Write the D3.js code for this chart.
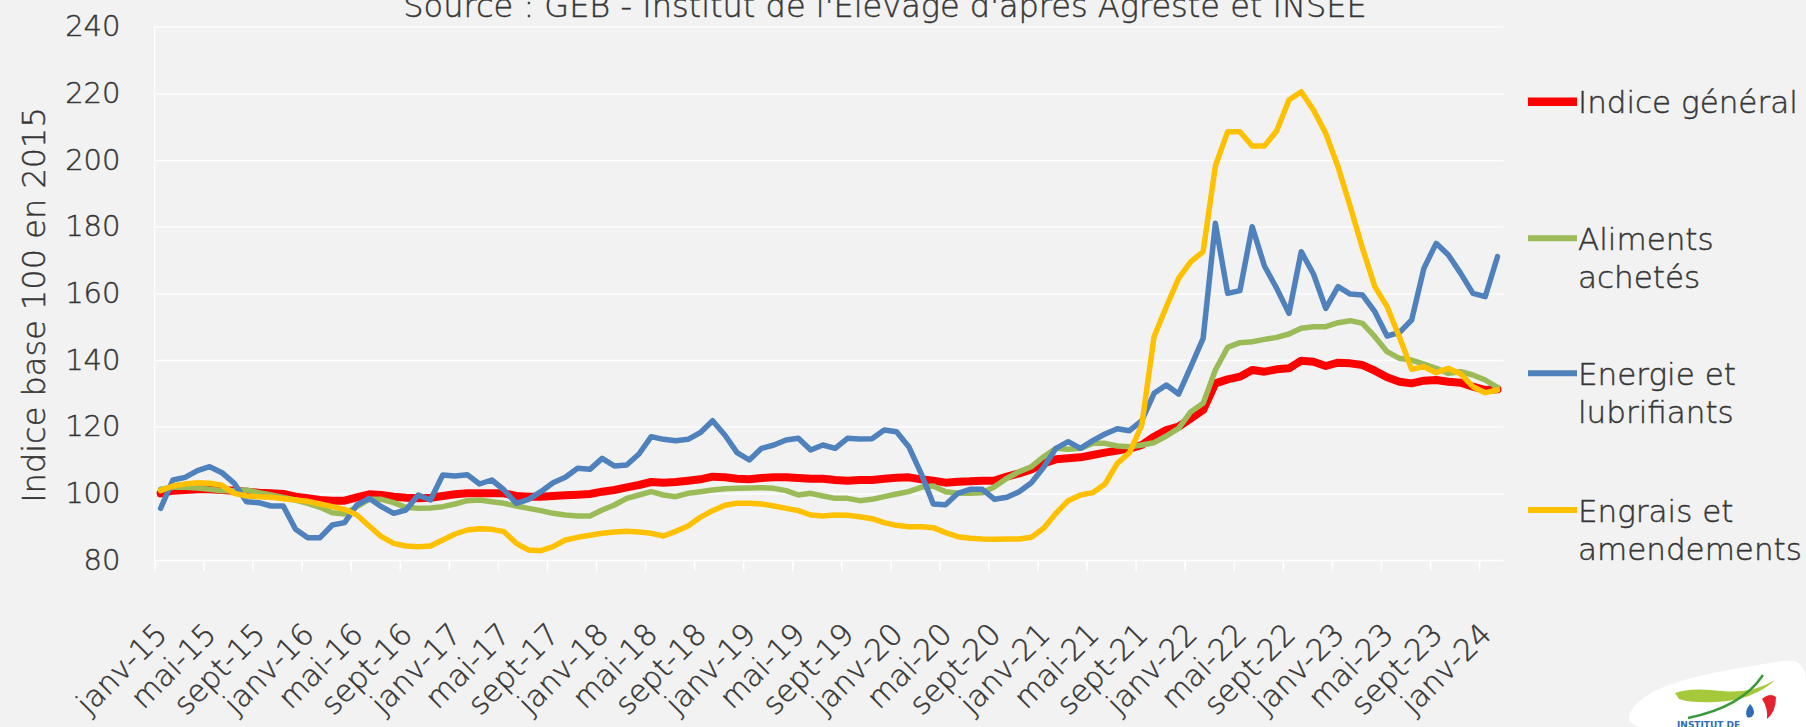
<!DOCTYPE html>
<html>
<head>
<meta charset="utf-8">
<script src="https://cdn.jsdelivr.net/npm/d3@7"></script>
<style>
html, body { margin: 0; padding: 0; background: #f2f2f2; }
svg { display: block; }
text { font-family: "DejaVu Sans", sans-serif; font-weight: 300; fill: #363636; stroke: #363636; stroke-width: 0.45px; }
</style>
</head>
<body>
<svg id="chart"></svg>
<script>
////////////////////////////////////////////////////////
// Indices des prix d'achat des moyens de production agricole
// base 100 en 2015, janv-15 -> févr-24

const monthNames = ['janv', 'févr', 'mars', 'avr', 'mai', 'juin', 'juil', 'août', 'sept', 'oct', 'nov', 'déc'];
const years = ['15', '16', '17', '18', '19', '20', '21', '22', '23', '24'];
const nbMonths = 110;

const tickLabels = [
	'janv-15', 'mai-15', 'sept-15', 'janv-16', 'mai-16', 'sept-16', 'janv-17', 'mai-17', 'sept-17',
	'janv-18', 'mai-18', 'sept-18', 'janv-19', 'mai-19', 'sept-19', 'janv-20', 'mai-20', 'sept-20',
	'janv-21', 'mai-21', 'sept-21', 'janv-22', 'mai-22', 'sept-22', 'janv-23', 'mai-23', 'sept-23',
	'janv-24'
];
const yTicks = [80, 100, 120, 140, 160, 180, 200, 220, 240];

const indiceGeneral = [
	100, 100.8, 101, 101.2, 101.2, 101, 100.8, 100.5, 100.2, 100, 99.8, 99,
	98.5, 98, 97.8, 97.8, 98.8, 99.7, 99.5, 99, 98.7, 98.5, 98.7, 99.2,
	99.7, 100, 100, 100, 100, 99.2, 99, 99, 99.2, 99.4, 99.6, 99.8,
	100.5, 101, 101.8, 102.5, 103.4, 103.2, 103.4, 103.8, 104.2, 105, 104.8, 104.4,
	104.2, 104.6, 104.8, 104.8, 104.6, 104.4, 104.4, 104, 103.8, 104, 104, 104.4,
	104.7, 104.8, 104.2, 103.8, 103.2, 103.5, 103.6, 103.8, 103.8, 105, 106, 107.2,
	109, 110.2, 110.5, 110.8, 111.5, 112.2, 112.8, 113.4, 114.5, 117, 119, 120,
	122.5, 125, 133, 134.2, 135, 137, 136.5, 137.2, 137.5, 139.8, 139.5, 138.2,
	139.2, 139, 138.5, 136.8, 134.8, 133.5, 133, 133.8, 134, 133.5, 133.2, 132,
	131, 131.2
];

const alimentsAchetes = [
	101.2, 101.8, 101.8, 101.6, 101.2, 100.8, 100.8, 101, 100.2, 99.5, 98.8, 98,
	97, 95.8, 94.2, 93.8, 96, 98.2, 98.2, 97.2, 95.8, 95.5, 95.6, 96,
	96.8, 97.8, 98, 97.5, 97, 96.2, 95.5, 94.8, 94, 93.5, 93.2, 93.2,
	95, 96.5, 98.5, 99.5, 100.5, 99.5, 99, 100, 100.5, 101, 101.4, 101.5,
	101.6, 101.7, 101.5, 100.8, 99.5, 100, 99.2, 98.5, 98.5, 97.8, 98.2, 99,
	99.8, 100.5, 101.8, 102.2, 100.5, 100, 100, 100.2, 102, 104.5, 106.5, 108,
	111, 113.5, 113.2, 113.5, 115, 115, 114.2, 114, 114.5, 115.2, 117.2, 119.5,
	124.5, 127, 137, 143.8, 145.2, 145.5, 146.2, 146.8, 147.8, 149.5, 150, 150,
	151.2, 151.8, 151, 147, 142.5, 140.5, 140, 138.8, 137.5, 136, 136.5, 135.5,
	134, 131.8
];

const energieLubrifiants = [
	95.5, 104, 104.8, 106.8, 108, 106.2, 103, 97.5, 97.2, 96.2, 96.2, 89.2,
	86.7, 86.7, 90.5, 91.2, 96.5, 98.5, 96, 94, 95, 99.5, 98, 105.5,
	105.2, 105.6, 102.8, 104, 101, 97, 98.2, 100.5, 103.2, 104.8, 107.5, 107.2,
	110.5, 108.2, 108.5, 111.8, 117, 116.2, 115.8, 116.2, 118.2, 121.8, 117.5, 112.2,
	110, 113.5, 114.5, 116, 116.5, 113, 114.5, 113.5, 116.5, 116.3, 116.4, 119,
	118.5, 114, 106, 96.8, 96.6, 100, 101.2, 101.2, 98.2, 98.8, 100.5, 103.2,
	107.8, 113.5, 115.5, 113.5, 115.8, 117.8, 119.4, 118.8, 121.8, 130, 132.5, 129.8,
	138, 146.5, 181, 160, 160.8, 180, 168.2, 161.5, 154, 172.5, 165.8, 155.5,
	162, 159.8, 159.5, 154.5, 147.2, 148.2, 152, 167.5, 175, 171.5, 166, 160,
	159, 171
];

const engraisAmendements = [
	100.8, 102.2, 102.8, 103.2, 103, 102.4, 100, 99.2, 99, 98.8, 98.4, 98,
	97.6, 96.8, 96, 95.2, 93.5, 90.2, 87, 85, 84.2, 84, 84.2, 86,
	87.8, 89, 89.4, 89.2, 88.5, 85, 83, 82.8, 84, 86, 86.8, 87.4,
	88, 88.4, 88.6, 88.4, 88, 87.2, 88.6, 90.2, 92.8, 94.8, 96.4, 97,
	97, 96.8, 96.2, 95.5, 94.8, 93.5, 93.2, 93.5, 93.4, 93, 92.4, 91.2,
	90.4, 90, 90, 89.7, 88.2, 87, 86.5, 86.3, 86.2, 86.3, 86.3, 86.8,
	89.5, 94, 97.8, 99.5, 100.2, 102.8, 109, 112.2, 120.5, 147, 156, 164.5,
	169.5, 172.5, 198.2, 208.5, 208.5, 204.2, 204.2, 208.8, 218, 220.5, 215, 208,
	198, 186, 173.5, 162, 156, 147, 137.2, 138, 136.2, 137.5, 135.8, 132,
	130.2, 131
];

// months as categories
const categories = [];
years.forEach(yr => {
	monthNames.forEach(m => {
		if (categories.length < nbMonths) categories.push(m + '-' + yr);
	});
});

const seriesLabels = [['Indice général'], ['Aliments', 'achetés'], ['Energie et', 'lubrifiants'], ['Engrais et', 'amendements']];
const seriesValues = [indiceGeneral, alimentsAchetes, energieLubrifiants, engraisAmendements];
const seriesColors = ['#ff0000', '#9bbb59', '#4f81bd', '#ffc000'];
const seriesWidths = [8, 5.5, 5.5, 5.5];

const DIMENSIONS = {
	size: [1806, 727],
	margin: { top: 26.7, right: 302.4, bottom: 167, left: 154.5 }
};

function drawAxis(svg, x, y, width, height) {
	// horizontal gridlines
	svg.append('g')
		.attr('class', 'y gridline')
		.call(d3.axisLeft(y).tickValues(yTicks).tickSize(-width).tickFormat(''))
		.call(g => g.select('.domain').remove())
		.selectAll('line')
			.attr('stroke', '#ffffff')
			.attr('stroke-width', 1.3);

	// y labels
	svg.append('g')
		.attr('class', 'yaxis')
		.call(d3.axisLeft(y).tickValues(yTicks).tickSize(0).tickPadding(34).tickFormat(d => d))
		.call(g => g.select('.domain').remove())
		.selectAll('text')
			.style('font-size', '29px')
			.attr('fill', null);

	// vertical axis line
	svg.append('line')
		.attr('x1', 0).attr('x2', 0)
		.attr('y1', 0).attr('y2', height)
		.attr('stroke', '#ffffff')
		.attr('stroke-width', 1.3);

	// tick marks every 4 months
	let xi = d3.scaleLinear().domain([0, nbMonths]).range([0, width]);
	svg.append('g')
		.attr('class', 'x ticks')
		.attr('transform', 'translate(0,' + height + ')')
		.call(d3.axisBottom(xi).tickValues(d3.range(0, nbMonths, 4)).tickSize(11).tickFormat(''))
		.call(g => g.select('.domain').remove())
		.selectAll('line')
			.attr('stroke', '#ffffff')
			.attr('stroke-width', 1.5);

	// rotated labels
	let labelCats = tickLabels.filter(l => categories.includes(l));
	svg.append('g')
		.attr('class', 'xaxis')
		.attr('transform', 'translate(0,' + height + ')')
		.call(d3.axisBottom(x).tickValues(labelCats).tickSize(0).tickFormat(d => d))
		.call(g => g.select('.domain').remove())
		.selectAll('text')
			.style('font-size', '30px')
			.style('text-anchor', 'end')
			.attr('fill', null)
			.attr('x', 0).attr('y', 0).attr('dy', 0)
			.attr('transform', 'translate(8,76) rotate(-45)');
}

function drawLines(svg, x, y) {
	let line = d3.line()
		.x((d, i) => x(categories[i]) + x.bandwidth() / 2)
		.y(d => y(d));

	seriesValues.forEach((values, i) => {
		svg.append('path')
			.datum(values)
			.attr('class', 'series' + i)
			.attr('fill', 'none')
			.attr('stroke', seriesColors[i])
			.attr('stroke-width', seriesWidths[i])
			.attr('stroke-linejoin', 'round')
			.attr('stroke-linecap', 'round')
			.attr('d', line);
	});
}

function drawLegend(root) {
	let lineY = [101.7, 238.3, 373.3, 510];
	let g = root.append('g').attr('class', 'legend');
	seriesLabels.forEach((label, i) => {
		g.append('line')
			.attr('x1', 1528).attr('x2', 1577)
			.attr('y1', lineY[i]).attr('y2', lineY[i])
			.attr('stroke', seriesColors[i])
			.attr('stroke-width', seriesWidths[i] + 0.5);
		label.forEach((txt, j) => {
			g.append('text')
				.attr('x', 1578)
				.attr('y', lineY[i] + 11.5 + j * 38)
				.style('font-size', '31px')
				.text(txt);
		});
	});
}

function drawTitles(root, dims) {
	root.append('text')
		.attr('x', 885)
		.attr('y', 17)
		.attr('text-anchor', 'middle')
		.style('font-size', '32px')
		.text("Source : GEB - Institut de l'Elevage d'après Agreste et INSEE");

	root.append('text')
		.attr('transform', 'translate(45,305) rotate(-90)')
		.attr('text-anchor', 'middle')
		.style('font-size', '32px')
		.text('Indice base 100 en 2015');
}

function drawLogo(root) {
	let g = root.append('g').attr('class', 'logo');
	g.append('path')
		.attr('d', 'M1631,711 C1648,684 1700,674 1782,661 Q1806,657 1806,682 L1806,727 L1642,727 Q1624,724 1631,711 Z')
		.attr('fill', '#ffffff');
	g.append('path')
		.attr('d', 'M1675,693 Q1690,687 1722,691 Q1752,694 1775,680 Q1754,700 1716,702 Q1690,703 1679,699 Z')
		.attr('fill', '#a5c93a');
	g.append('path')
		.attr('d', 'M1688,718 Q1742,707 1763,675')
		.attr('fill', 'none')
		.attr('stroke', '#3c9a3c')
		.attr('stroke-width', 2.5);
	g.append('path')
		.attr('d', 'M1762,699 Q1770,692 1776,697 Q1776,712 1767,719 Q1768,708 1762,699 Z')
		.attr('fill', '#e52330');
	g.append('path')
		.attr('d', 'M1750,704 Q1744,712 1747,717 Q1752,719 1754,713 Q1754,708 1750,704 Z')
		.attr('fill', '#2f6db5');
	g.append('text')
		.attr('x', 1677).attr('y', 728)
		.style('font-size', '9px')
		.style('font-weight', 'bold')
		.style('fill', '#2f6db5')
		.style('stroke', 'none')
		.text('INSTITUT DE');
}

// main charting function
function chart() {
	let dim = DIMENSIONS;
	let width = dim.size[0] - dim.margin.left - dim.margin.right;
	let height = dim.size[1] - dim.margin.top - dim.margin.bottom;

	let root = d3.select('#chart')
		.attr('width', dim.size[0])
		.attr('height', dim.size[1])
		.attr('viewBox', `0 0 ${dim.size[0]} ${dim.size[1]}`);

	root.append('rect')
		.attr('width', dim.size[0]).attr('height', dim.size[1])
		.attr('fill', '#f2f2f2');

	let x = d3.scaleBand().domain(categories).range([0, width]).padding(0);
	let y = d3.scaleLinear().domain([80, 240]).range([height, 0]);

	let svg = root.append('g')
		.attr('transform', 'translate(' + dim.margin.left + ',' + dim.margin.top + ')');

	drawAxis(svg, x, y, width, height);
	drawLines(svg, x, y);
	drawLegend(root);
	drawTitles(root, dim);
	drawLogo(root);
}

chart();
</script>
</body>
</html>
